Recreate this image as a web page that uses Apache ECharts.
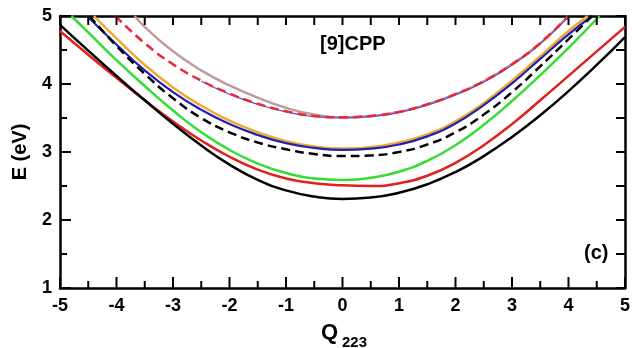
<!DOCTYPE html>
<html>
<head>
<meta charset="utf-8">
<script src="https://cdn.jsdelivr.net/npm/echarts@6/dist/echarts.min.js"></script>
<style>
  html, body { margin: 0; padding: 0; background: #fff; }
  #chart { width: 633px; height: 348px; }
</style>
</head>
<body>
<div id="chart"></div>
<script>
// curves, [Q223, E (eV)]
const blackSolid = [[-5,4.87],[-4.5,4.49],[-4,4.12],[-3.5,3.76],[-3,3.415],[-2.5,3.095],[-2,2.815],[-1.5,2.59],[-1,2.435],[-0.5,2.345],[0,2.31],[0.5,2.33],[1,2.4],[1.5,2.525],[2,2.705],[2.5,2.94],[3,3.22],[3.5,3.54],[4,3.895],[4.5,4.28],[5,4.69]]
const redSolid = [[-5,4.78],[-4.5,4.43],[-4,4.09],[-3.5,3.76],[-3,3.45],[-2.5,3.17],[-2,2.93],[-1.5,2.74],[-1,2.61],[-0.5,2.54],[0,2.51],[0.5,2.5],[1,2.54],[1.5,2.65],[2,2.84],[2.5,3.1],[3,3.41],[3.5,3.76],[4,4.12],[4.5,4.48],[5,4.84]]
const greenSolid = [[-4.8,5],[-4.5,4.76],[-4,4.35],[-3.5,3.97],[-3,3.61],[-2.5,3.29],[-2,3.03],[-1.5,2.83],[-1,2.69],[-0.5,2.61],[0,2.59],[0.5,2.62],[1,2.71],[1.5,2.87],[2,3.1],[2.5,3.4],[3,3.75],[3.5,4.13],[4,4.53],[4.55,5]]
const blackDashed = [[-4.48,5],[-4,4.56],[-3.5,4.15],[-3,3.79],[-2.5,3.5],[-2,3.29],[-1.5,3.14],[-1,3.04],[-0.5,2.97],[0,2.94],[0.5,2.95],[1,3],[1.5,3.11],[2,3.29],[2.5,3.55],[3,3.88],[3.5,4.26],[4,4.66],[4.42,5]]
const blueSolid = [[-4.52,5],[-4,4.58],[-3.5,4.2],[-3,3.88],[-2.5,3.62],[-2,3.41],[-1.5,3.25],[-1,3.13],[-0.5,3.06],[0,3.03],[0.5,3.05],[1,3.11],[1.5,3.23],[2,3.42],[2.5,3.69],[3,4.01],[3.5,4.37],[4,4.73],[4.42,5]]
const orangeSolid = [[-4.4,5],[-4,4.67],[-3.5,4.28],[-3,3.95],[-2.5,3.68],[-2,3.46],[-1.5,3.29],[-1,3.16],[-0.5,3.08],[0,3.05],[0.5,3.07],[1,3.14],[1.5,3.26],[2,3.45],[2.5,3.72],[3,4.05],[3.5,4.41],[4,4.78],[4.34,5]]
const redDashed = [[-4.02,5],[-3.5,4.6],[-3,4.29],[-2.5,4.05],[-2,3.86],[-1.5,3.71],[-1,3.6],[-0.5,3.53],[0,3.51],[0.5,3.53],[1,3.59],[1.5,3.7],[2,3.85],[2.5,4.04],[3,4.29],[3.5,4.6],[4,5]]
const blueThin = [[-2.5,4.04],[-2,3.85],[-1.5,3.7],[-1,3.59],[-0.5,3.52],[0,3.5],[0.5,3.52],[1,3.58],[1.5,3.69],[2,3.84],[2.5,4.03],[3,4.28],[3.5,4.59],[4,4.99]]
const greySolid = [[-3.68,5],[-3.5,4.84],[-3,4.48],[-2.5,4.2],[-2,3.98],[-1.5,3.8],[-1,3.65],[-0.5,3.55],[0,3.51],[0.5,3.53],[1,3.59],[1.5,3.7],[2,3.85],[2.5,4.04],[3,4.29],[3.5,4.6],[4,5]]

// tick values on the frame (whole values get the long ticks)
const xTickVals = [-5,-4.5,-4,-3.5,-3,-2.5,-2,-1.5,-1,-0.5,0,0.5,1,1.5,2,2.5,3,3.5,4,4.5,5]
const yTickVals = [1,1.5,2,2.5,3,3.5,4,4.5,5]
const xRange = [-5, 5]
const yRange = [1, 5]

const FONT = 'Liberation Sans'

const chart = echarts.init(document.getElementById('chart'))

const line = (data, color, width, type) => ({
  type: 'line',
  data,
  smooth: 0.5,
  showSymbol: false,
  silent: true,
  lineStyle: { color, width, type },
})

// axis ticks would not render in this setup, so draw them as a custom series
// placed through the axes' own coord()
const tickSeries = (data, side) => ({
  type: 'custom',
  silent: true,
  clip: false,
  z: 20,
  data,
  renderItem: (params, api) => {
    const xv = api.value(0)
    const yv = api.value(1)
    const p = api.coord([xv, yv])
    const v = side === 'bottom' || side === 'top' ? xv : yv
    const major = Number.isInteger(v)
    let dx = 0
    let dy = 0
    if (side === 'bottom') dy = -(major ? 11 : 7)
    if (side === 'top') dy = 9
    if (side === 'left') dx = major ? 11 : 7
    if (side === 'right') dx = -9
    return {
      type: 'line',
      shape: { x1: p[0], y1: p[1], x2: p[0] + dx, y2: p[1] + dy },
      style: { stroke: '#000', lineWidth: 2 },
    }
  },
})

const axisLine = () => ({ show: true, onZero: false, lineStyle: { color: '#000', width: 2.5 } })
const label = (margin) => ({ margin, color: '#000', fontFamily: FONT, fontWeight: 'bold', fontSize: 18 })

chart.setOption({
  animation: false,
  grid: { left: 60, right: 7, top: 16, bottom: 60 },
  xAxis: [
    {
      type: 'value', min: xRange[0], max: xRange[1], interval: 1,
      splitLine: { show: false }, axisLine: axisLine(), axisTick: { show: false }, axisLabel: label(9),
    },
    {
      type: 'value', position: 'top', min: xRange[0], max: xRange[1], interval: 1,
      splitLine: { show: false }, axisLine: axisLine(), axisTick: { show: false }, axisLabel: { show: false },
    },
  ],
  yAxis: [
    {
      type: 'value', min: yRange[0], max: yRange[1], interval: 1,
      name: 'E (eV)', nameLocation: 'middle', nameGap: 30,
      nameTextStyle: { color: '#000', fontFamily: FONT, fontWeight: 'bold', fontSize: 20 },
      splitLine: { show: false }, axisLine: axisLine(), axisTick: { show: false }, axisLabel: label(8),
    },
    {
      type: 'value', position: 'right', min: yRange[0], max: yRange[1], interval: 1,
      splitLine: { show: false }, axisLine: axisLine(), axisTick: { show: false }, axisLabel: { show: false },
    },
  ],
  series: [
    line(greySolid, '#bc9c9c', 2.5, 'solid'),
    line(blueThin, '#5a50c8', 1.2, 'solid'),
    line(redDashed, '#e8283a', 2.5, [9, 5]),
    line(orangeSolid, '#f0a830', 2.5, 'solid'),
    line(blueSolid, '#2020b0', 2.2, 'solid'),
    line(blackDashed, '#000000', 2.5, [9, 5]),
    line(greenSolid, '#33dd33', 2.5, 'solid'),
    line(redSolid, '#e0201e', 2.5, 'solid'),
    line(blackSolid, '#000000', 2.5, 'solid'),
    tickSeries(xTickVals.map((v) => [v, yRange[0]]), 'bottom'),
    tickSeries(xTickVals.map((v) => [v, yRange[1]]), 'top'),
    tickSeries(yTickVals.map((v) => [xRange[0], v]), 'left'),
    tickSeries(yTickVals.map((v) => [xRange[1], v]), 'right'),
  ],
  graphic: [
    { type: 'text', left: 320, top: 34, style: { text: '[9]CPP', font: 'bold 20px "Liberation Sans"', fill: '#000' } },
    { type: 'text', left: 584, top: 243, style: { text: '(c)', font: 'bold 20px "Liberation Sans"', fill: '#000' } },
    { type: 'text', left: 321, top: 322, style: { text: 'Q', font: 'bold 22px "Liberation Sans"', fill: '#000' } },
    { type: 'text', left: 342, top: 335, style: { text: '223', font: 'bold 15px "Liberation Sans"', fill: '#000' } },
  ],
})
</script>
</body>
</html>
